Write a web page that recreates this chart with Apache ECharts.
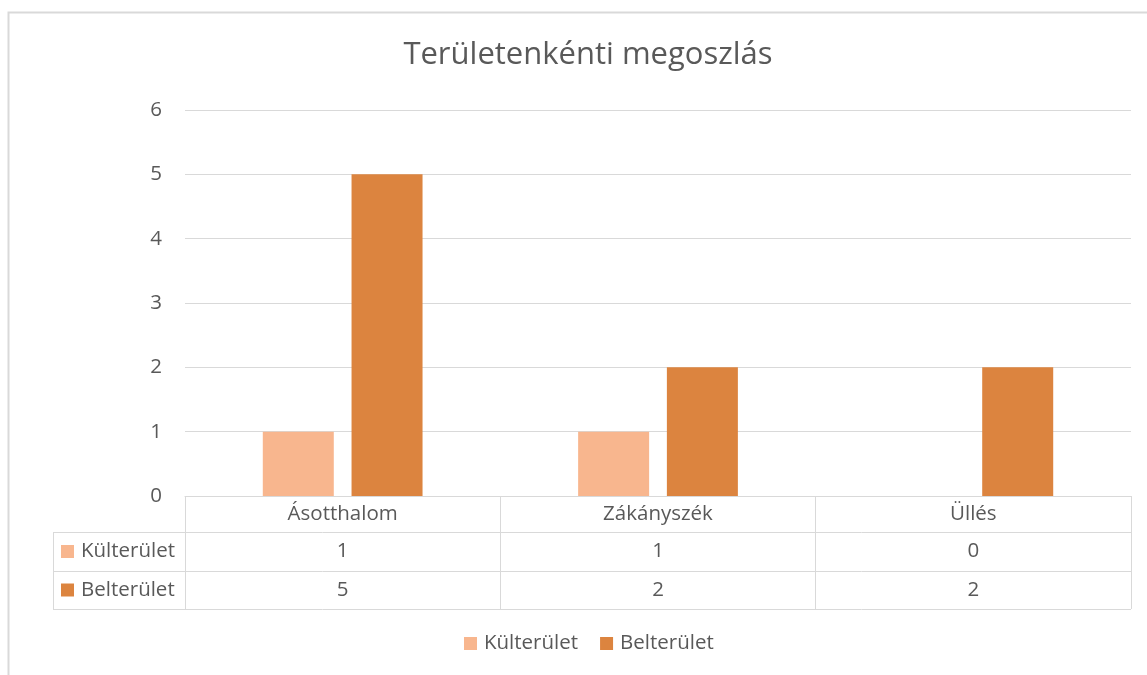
<!DOCTYPE html>
<html>
<head>
<meta charset="utf-8">
<script src="https://cdn.jsdelivr.net/npm/echarts@6/dist/echarts.min.js"></script>
<style>html,body{margin:0;padding:0;background:#fff;}#c{width:1147px;height:675px;}</style>
</head>
<body>
<div id="c"></div>
<script>
const titleText = 'Területenkénti megoszlás';
const categories = ['Ásotthalom', 'Zákányszék', 'Üllés'];
const seriesNames = ['Külterület', 'Belterület'];
const kulterulet = [1, 1, 0];
const belterulet = [5, 2, 2];
const yTicks = [0, 1, 2, 3, 4, 5, 6];

const colors = ['#F8B68E', '#DC843F'];
const txt = '#595959';
const lineC = '#d9d9d9';
const FONT = 'Open Sans';
const FS = 20.5;
const seriesData = [kulterulet, belterulet];

const chart = echarts.init(document.getElementById('c'), null, {renderer: 'canvas'});

const option = {
  animation: false,
  title: {
    text: titleText, left: 583, top: 35, textAlign: 'center',
    textStyle: {fontFamily: FONT, fontSize: 31, fontWeight: 'normal', color: txt}
  },
  legend: {
    bottom: 16, left: 459, itemWidth: 13, itemHeight: 13, itemGap: 22,
    icon: 'rect',
    textStyle: {fontFamily: FONT, fontSize: FS, color: txt, padding: [0, 0, 0, 2]},
    data: seriesNames
  },
  grid: {left: 185, right: 16, top: 110, bottom: 179, containLabel: false},
  xAxis: {
    type: 'category', data: categories,
    axisLine: {show: true, lineStyle: {color: lineC, width: 1}},
    axisTick: {show: true, length: 113, lineStyle: {color: lineC, width: 1}},
    axisLabel: {fontFamily: FONT, fontSize: FS, color: txt, margin: 8}
  },
  yAxis: {
    type: 'value', min: yTicks[0], max: yTicks[yTicks.length - 1], interval: 1,
    axisLine: {show: false}, axisTick: {show: false},
    splitLine: {lineStyle: {color: lineC, width: 1}},
    axisLabel: {fontFamily: FONT, fontSize: FS, color: txt, margin: 23}
  },
  series: seriesNames.map((n, i) => ({
    name: n, type: 'bar', data: seriesData[i], barWidth: 71, barGap: '25%',
    itemStyle: {color: colors[i]}
  }))
};
chart.setOption(option);

// Build data table from arrays
const gridBottom = 496, rowH = [36, 39, 38];
const tableLeft = 53, tableRight = 1131, gridLeft = 185;
const graphics = [];
// outer chart-area border (left and top only visible)
graphics.push({type: 'polyline', shape: {points: [[8.5, 675], [8.5, 12.5], [1147, 12.5]]}, style: {stroke: lineC, lineWidth: 2, fill: null}, silent: true});
let y = gridBottom + rowH[0];
const rowYs = [y];
for (let r = 0; r < seriesNames.length; r++) { y += rowH[r + 1]; rowYs.push(y); }
rowYs.forEach(yy => graphics.push({type: 'line', shape: {x1: tableLeft, y1: yy + 0.5, x2: tableRight, y2: yy + 0.5}, style: {stroke: lineC, lineWidth: 1}, silent: true}));
graphics.push({type: 'line', shape: {x1: tableLeft + 0.5, y1: rowYs[0], x2: tableLeft + 0.5, y2: rowYs[rowYs.length - 1]}, style: {stroke: lineC, lineWidth: 1}, silent: true});
graphics.push({type: 'line', shape: {x1: gridLeft + 0.5, y1: rowYs[0], x2: gridLeft + 0.5, y2: rowYs[rowYs.length - 1]}, style: {stroke: lineC, lineWidth: 1}, silent: true});
seriesNames.forEach((n, r) => {
  const cy = (rowYs[r] + rowYs[r + 1]) / 2;
  graphics.push({type: 'rect', shape: {x: 61, y: cy - 6.5, width: 13, height: 13}, style: {fill: colors[r]}, silent: true});
  graphics.push({type: 'text', x: 81, y: cy, style: {text: n, font: FS + 'px "' + FONT + '"', fill: txt, verticalAlign: 'middle', align: 'left'}, silent: true});
  categories.forEach((c, ci) => {
    const cx = chart.convertToPixel({xAxisIndex: 0}, c);
    graphics.push({type: 'text', x: cx, y: cy, style: {text: String(seriesData[r][ci]), font: FS + 'px "' + FONT + '"', fill: txt, verticalAlign: 'middle', align: 'center'}, silent: true});
  });
});
chart.setOption({graphic: graphics});
</script>
</body>
</html>
